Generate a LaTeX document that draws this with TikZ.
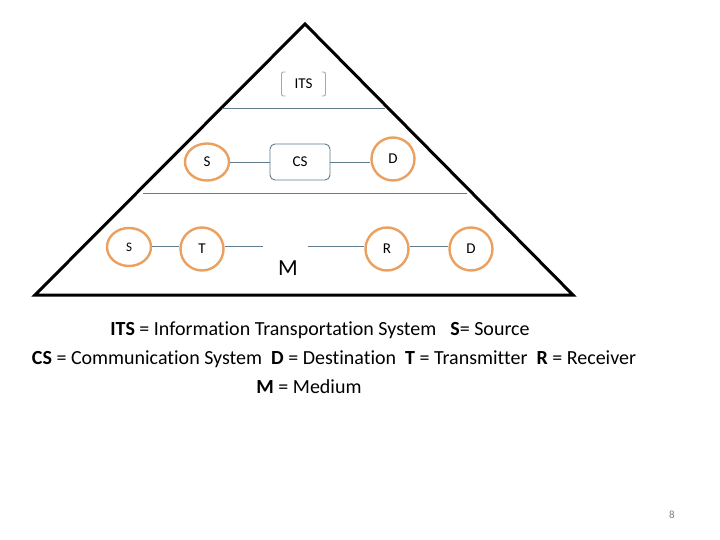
\documentclass[tikz,border=0pt]{standalone}
\usepackage{fontspec}
\setmainfont[Ligatures=NoCommon]{Carlito}
\usetikzlibrary{shapes.geometric}
\definecolor{ringorange}{HTML}{EBA05F}
\definecolor{wireblue}{HTML}{5F7B8E}
\definecolor{brackgray}{HTML}{9AAAB8}
\begin{document}
\begin{tikzpicture}[x=1pt,y=-1pt,line width=1pt,
  ring/.style={draw=ringorange,line width=2.4pt,circle,minimum size=41pt,inner sep=0pt,font=\fontsize{15}{15}\selectfont},
  wire/.style={draw=wireblue,line width=0.9pt},
  legend/.style={font=\fontsize{20}{24}\selectfont,inner sep=0pt}]
 \useasboundingbox[fill=white] (0,0) rectangle (720,540);
 % outer triangle
 \coordinate (apex) at (305,24); \coordinate (bl) at (35,295); \coordinate (br) at (573,295);
 \draw[line width=3pt,line join=miter] (apex) -- (bl) -- (br) -- cycle;
 % layer separators
 \coordinate (l1a) at (222,108); \coordinate (l1b) at (385,108);
 \coordinate (l2a) at (143,193); \coordinate (l2b) at (467,193);
 \draw[wire] (l1a) -- (l1b);
 \draw[wire] (l2a) -- (l2b);
 % top level
 \node[inner sep=0pt,minimum width=43pt,minimum height=23pt,font=\fontsize{15}{15}\selectfont] (its) at (303.5,84) {ITS};
 \draw[brackgray,line width=0.9pt,rounded corners=2pt] ([xshift=4pt]its.north west) -- (its.north west) -- (its.south west) -- ([xshift=4pt]its.south west);
 \draw[brackgray,line width=0.9pt,rounded corners=2pt] ([xshift=-4pt]its.north east) -- (its.north east) -- (its.south east) -- ([xshift=-4pt]its.south east);
 % middle level
 \node[ring,ellipse,minimum width=44pt,minimum height=37pt] (s1) at (207,162) {S};
 \node[draw=wireblue,line width=0.9pt,rounded corners=5pt,minimum width=60pt,minimum height=36pt,font=\fontsize{15}{15}\selectfont] (cs) at (300,162) {CS};
 \node[ring,minimum size=43pt] (d1) at (393,159) {D};
 \draw[wire] (s1.east) -- (cs.west);
 \draw[wire] (cs.east) -- (d1.west |- cs.east);
 % bottom level, wires run level at the medium's height
 \node[ring,ellipse,minimum width=44pt,minimum height=38pt,font=\fontsize{13}{13}\selectfont] (s2) at (129,247) {S};
 \node[ring,minimum size=43pt] (t) at (202,249) {T};
 \node[inner sep=0pt,minimum width=44pt,minimum height=2pt] (m) at (285,246) {};
 \node[font=\fontsize{23}{23}\selectfont] (mtxt) at (288,268) {M};
 \node[ring,minimum size=43pt] (r) at (387,249) {R};
 \node[ring,minimum size=43pt] (d2) at (471,249) {D};
 \draw[wire] (s2.east |- m) -- (t.west |- m);
 \draw[wire] (t.east |- m) -- (m.west);
 \draw[wire] (m.east) -- (r.west |- m);
 \draw[wire] (r.east |- m) -- (d2.west |- m);
 % legend
 \node[legend] (leg1) at (320,330) {\textbf{ITS} = Information Transportation System\hspace{14pt}\textbf{S}= Source};
 \node[legend] (leg2) at (334,359) {\textbf{CS} = Communication System\ \ \textbf{D} = Destination\ \ \textbf{T} = Transmitter\ \ \textbf{R} = Receiver};
 \node[legend] (leg3) at (309,387) {\textbf{M} = Medium};
 \node[font=\fontsize{11}{11}\selectfont,text=gray] (page) at (672,515) {8};
\end{tikzpicture}
\end{document}
